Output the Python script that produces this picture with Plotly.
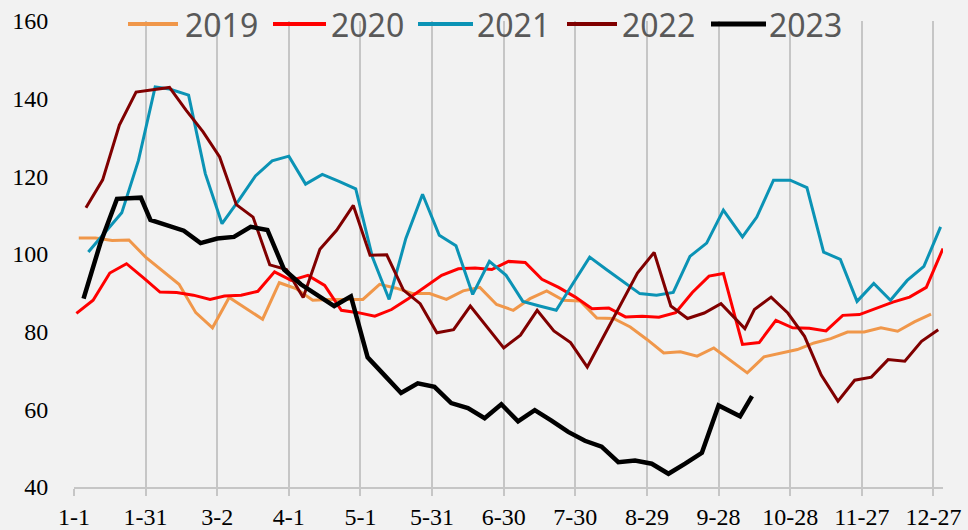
import plotly.graph_objects as go

# Axis ticks: day of year (common-year calendar) and the month-day labels
tick_days = [0, 30, 60, 90, 120, 150, 180, 210, 240, 270, 300, 330, 360]
tick_labels = ["1-1", "1-31", "3-2", "4-1", "5-1", "5-31", "6-30", "7-30",
               "8-29", "9-28", "10-28", "11-27", "12-27"]
y_ticks = [40, 60, 80, 100, 120, 140, 160]

# Weekly readings, x = day of year of each reading
days_2019 = [2, 9, 16, 23, 30, 44, 51, 58, 65, 72, 79, 86, 93, 100, 107, 114,
             121, 128, 135, 142, 149, 156, 163, 170, 177, 184, 191, 198, 205,
             212, 219, 226, 233, 240, 247, 254, 261, 268, 282, 289, 296, 303,
             310, 317, 324, 331, 338, 345, 352, 359]
vals_2019 = [104.1, 104.1, 103.5, 103.6, 99.2, 92.2, 84.9, 81.0, 88.8, 86.0,
             83.2, 92.6, 91.1, 88.1, 88.3, 88.3, 88.3, 92.2, 91.2, 89.8, 89.8,
             88.3, 90.5, 91.4, 87.0, 85.5, 88.5, 90.5, 88.1, 87.9, 83.5, 83.4,
             81.2, 78.0, 74.5, 74.8, 73.7, 75.8, 69.4, 73.5, 74.4, 75.4, 77.1,
             78.2, 79.9, 79.9, 81.0, 80.1, 82.5, 84.5]

days_2020 = [1, 8, 15, 22, 29, 36, 43, 50, 57, 63, 70, 77, 84, 91, 98, 105,
             112, 119, 126, 133, 140, 147, 154, 161, 168, 175, 182, 189, 196,
             203, 210, 217, 224, 231, 238, 245, 252, 259, 266, 272, 280, 287,
             294, 301, 308, 315, 322, 329, 336, 343, 350, 357, 364]
vals_2020 = [84.7, 88.1, 95.1, 97.5, 93.9, 90.2, 90.1, 89.4, 88.3, 89.2, 89.4,
             90.4, 95.4, 93.2, 94.5, 91.9, 85.5, 84.9, 84.0, 85.7, 88.5, 91.4,
             94.5, 96.2, 96.4, 96.0, 98.1, 97.8, 93.5, 91.4, 88.9, 85.9, 86.1,
             83.8, 84.0, 83.7, 84.9, 90.1, 94.3, 95.0, 76.7, 77.2, 82.9, 81.0,
             80.9, 80.2, 84.2, 84.4, 86.1, 87.6, 88.9, 91.4, 101.4]

days_2021 = [6, 13, 20, 27, 34, 40, 48, 55, 62, 69, 76, 83, 90, 97, 104, 111,
             118, 125, 132, 139, 146, 153, 160, 167, 174, 181, 188, 195, 202,
             209, 216, 223, 230, 237, 244, 251, 258, 265, 272, 280, 286, 293,
             300, 307, 314, 321, 328, 335, 342, 349, 356, 363]
vals_2021 = [100.5, 105.7, 110.6, 124.1, 143.0, 142.5, 140.9, 120.7, 107.8,
             113.8, 120.1, 124.0, 125.2, 118.0, 120.5, 118.7, 116.8, 99.2, 88.3,
             104.0, 115.4, 104.8, 102.1, 89.6, 98.1, 94.5, 87.8, 86.6, 85.5,
             92.4, 99.2, 96.0, 92.8, 89.8, 89.4, 90.1, 99.4, 102.8, 111.3,
             104.4, 109.5, 119.0, 119.0, 117.1, 100.5, 98.6, 87.8, 92.4, 88.1,
             93.2, 96.8, 107.0]

days_2022 = [5, 12, 19, 26, 40, 47, 54, 61, 68, 75, 82, 89, 96, 103, 110, 117,
             124, 131, 138, 145, 152, 159, 166, 173, 180, 187, 194, 201, 208,
             215, 222, 229, 236, 243, 250, 257, 264, 271, 281, 285, 292, 299,
             306, 313, 320, 327, 334, 341, 348, 355, 362]
vals_2022 = [111.9, 119.1, 133.2, 141.7, 142.9, 137.0, 131.5, 125.0, 112.7,
             109.5, 97.2, 96.0, 88.8, 101.2, 106.1, 112.5, 99.7, 99.8, 90.7,
             87.2, 79.7, 80.5, 86.6, 81.2, 75.8, 79.1, 85.5, 80.2, 77.2, 70.9,
             78.9, 87.0, 95.1, 100.4, 86.6, 83.4, 84.8, 87.2, 80.8, 85.7, 88.9,
             84.8, 78.8, 68.8, 62.1, 67.5, 68.3, 72.8, 72.4, 77.5, 80.5]

days_2023 = [4, 11, 18, 28, 32, 39, 46, 53, 60, 67, 74, 81, 88, 95, 102, 109,
             116, 123, 130, 137, 144, 151, 158, 165, 172, 179, 186, 193, 200,
             207, 214, 221, 228, 235, 242, 249, 256, 263, 270, 279, 284]
vals_2023 = [88.5, 102.7, 114.2, 114.5, 108.8, 107.4, 106.0, 102.8, 104.0,
             104.4, 107.0, 106.2, 96.0, 92.2, 89.5, 86.6, 89.1, 73.4, 68.8,
             64.2, 66.7, 65.8, 61.6, 60.3, 57.7, 61.3, 56.9, 59.8, 57.1, 54.2,
             51.9, 50.4, 46.4, 46.8, 46.0, 43.4, 46.0, 48.8, 61.0, 58.2, 63.4]

series = [
    ("2019", days_2019, vals_2019, "#F0974A", 3),
    ("2020", days_2020, vals_2020, "#FF0000", 3),
    ("2021", days_2021, vals_2021, "#0B93B5", 3),
    ("2022", days_2022, vals_2022, "#800000", 3),
    ("2023", days_2023, vals_2023, "#000000", 4.5),
]

W, H = 968, 530
ML, MR, MT, MB = 74, 25, 21, 43
PW, PH = W - ML - MR, H - MT - MB
BG = "#F2F2F2"
GRID = "#C6C6C6"


def xp(px):
    return (px - ML) / PW


def yp(py):
    return (H - MB - py) / PH


fig = go.Figure()
for name, d, v, color, width in series:
    fig.add_trace(go.Scatter(x=d, y=v, mode="lines", name=name,
                             line=dict(color=color, width=width),
                             showlegend=False, hoverinfo="x+y+name"))

# Legend row across the top: sample line followed by the year
legend_rows = [
    ("2019", 128, 178, 183),
    ("2020", 273, 326, 329),
    ("2021", 418, 473, 475),
    ("2022", 567, 617, 620),
    ("2023", 711, 766, 767),
]
legend_y = 24
shapes, annotations = [], []
for (name, lx0, lx1, tx), s in zip(legend_rows, series):
    shapes.append(dict(type="line", xref="paper", yref="paper",
                       x0=xp(lx0), x1=xp(lx1), y0=yp(legend_y), y1=yp(legend_y),
                       line=dict(color=s[3], width=4 if s[4] < 4 else 5)))
    annotations.append(dict(text=name, xref="paper", yref="paper",
                            x=xp(tx), y=yp(legend_y), xanchor="left",
                            yanchor="middle", showarrow=False,
                            font=dict(family="Noto Sans", size=32,
                                      color="#595959")))

tick_font = dict(family="Liberation Serif", size=24, color="#000000")

fig.update_layout(
    width=W, height=H,
    margin=dict(l=ML, r=MR, t=MT, b=MB, pad=0),
    paper_bgcolor=BG, plot_bgcolor=BG,
    shapes=shapes, annotations=annotations,
    xaxis=dict(range=[0, 364], tickmode="array", tickvals=tick_days,
               ticktext=tick_labels, showgrid=True, gridcolor=GRID,
               gridwidth=1.5, zeroline=False, showline=True, linecolor=GRID,
               linewidth=1.5, ticks="outside", ticklen=7, tickwidth=1.5,
               tickcolor=GRID, tickfont=tick_font, fixedrange=True,
               automargin=False, ticklabelstandoff=0),
    yaxis=dict(range=[40, 160], tickmode="array", tickvals=y_ticks,
               showgrid=False, zeroline=False, showline=False,
               ticks="outside", ticklen=20, tickcolor="rgba(0,0,0,0)",
               tickfont=tick_font, fixedrange=True, automargin=False),
)

fig.write_html("out.html")
